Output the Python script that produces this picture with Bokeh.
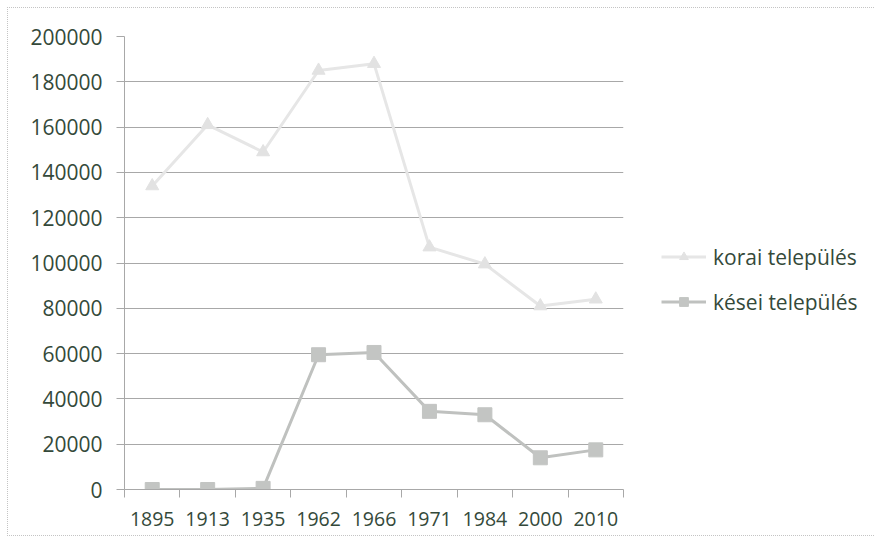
from bokeh.plotting import figure
from bokeh.models import FixedTicker, Legend, LegendItem, Range1d, NumeralTickFormatter
from bokeh.embed import file_html
from bokeh.resources import INLINE

years = ["1895", "1913", "1935", "1962", "1966", "1971", "1984", "2000", "2010"]
korai = [134000, 161000, 149000, 185000, 188000, 107000, 99500, 81000, 84000]
kesei = [0, 0, 500, 59500, 60500, 34500, 33000, 14000, 17500]
y_ticks = [0, 20000, 40000, 60000, 80000, 100000, 120000, 140000, 160000, 180000, 200000]

xs = [i + 0.5 for i in range(len(years))]
FONT = "Open Sans"
TXT = "#34493a"

p = figure(frame_width=499, frame_height=453, output_backend="svg", toolbar_location=None,
           x_range=Range1d(0, len(years)), y_range=Range1d(0, 200000),
           min_border_left=116, min_border_right=244, min_border_top=28, min_border_bottom=46)
p.outline_line_color = None
p.styles = {"border": "1px dotted #c4c4c4", "box-sizing": "border-box", "margin": "7px 0 0 7px"}

lk = p.line(xs, korai, line_color="#e6e6e6", line_width=3)
mk = p.scatter(xs, korai, marker="triangle", size=13, fill_color="#e2e2e2", line_color="#e2e2e2")
ls = p.line(xs, kesei, line_color="#bfc1bf", line_width=3)
ms = p.scatter(xs, kesei, marker="square", size=14, fill_color="#c3c5c3", line_color="#c3c5c3")

p.xgrid.grid_line_color = None
p.ygrid.grid_line_color = "#a8a8a8"
p.ygrid.grid_line_width = 1

p.yaxis.ticker = FixedTicker(ticks=y_ticks)
p.yaxis.formatter = NumeralTickFormatter(format="0")
p.yaxis.major_tick_out = 8
p.yaxis.major_tick_in = 0
p.yaxis.major_tick_line_color = "#a8a8a8"
p.yaxis.minor_tick_line_color = None
p.yaxis.major_label_standoff = 14

p.xaxis.ticker = FixedTicker(ticks=xs, minor_ticks=list(range(len(years) + 1)))
p.xaxis.major_label_overrides = {x: y for x, y in zip(xs, years)}
p.xaxis.major_tick_line_color = None
p.xaxis.minor_tick_out = 8
p.xaxis.minor_tick_in = 0
p.xaxis.minor_tick_line_color = "#a8a8a8"
p.xaxis.major_label_standoff = 14

for ax in (p.xaxis, p.yaxis):
    ax.axis_line_color = "#a8a8a8"
    ax.major_label_text_font = FONT
    ax.major_label_text_color = TXT
p.xaxis.major_label_text_font_size = "19.5px"
p.yaxis.major_label_text_font_size = "21px"

legend = Legend(items=[LegendItem(label="korai település", renderers=[lk, mk]),
                       LegendItem(label="kései település", renderers=[ls, ms])],
                location="center_left", orientation="vertical",
                title=" ", title_text_font_size="10px", title_standoff=21,
                glyph_width=45, glyph_height=22, spacing=17, padding=0, margin=38,
                label_standoff=7, label_text_font=FONT, label_text_font_size="21px",
                label_text_color=TXT, border_line_color=None, background_fill_alpha=0)
p.add_layout(legend, "right")

open("out.html", "w").write(file_html(p, INLINE))
